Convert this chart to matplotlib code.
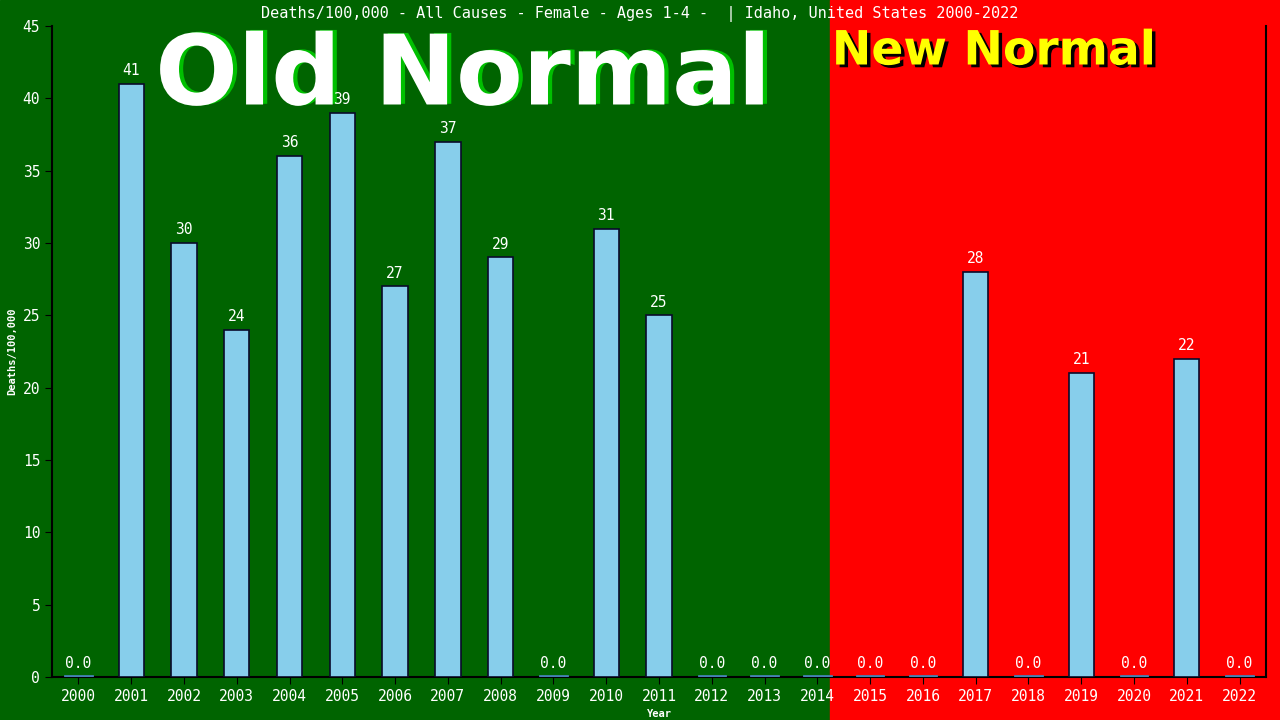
import matplotlib
matplotlib.use('Agg')
import matplotlib.pyplot as plt
import matplotlib.patheffects as pe
from matplotlib.patches import Rectangle

years = [str(y) for y in range(2000, 2023)]
deaths = [0, 41, 30, 24, 36, 39, 27, 37, 29, 0, 31, 25, 0, 0, 0, 0, 0, 28, 0, 21, 0, 22, 0]

mono = 'DejaVu Sans Mono'

fig = plt.figure(figsize=(12.8, 7.2), dpi=100)
# background split: old normal (green) / new normal (red)
split = 830 / 1280
fig.patches.append(Rectangle((0, 0), split, 1, transform=fig.transFigure, color='#006400', zorder=-10))
fig.patches.append(Rectangle((split, 0), 1 - split, 1, transform=fig.transFigure, color='#FF0000', zorder=-10))

# big labels first so the bars sit on top
fig.text(463/1280, 1 - 78/720, 'Old Normal', ha='center', va='center', color='white', fontsize=70,
	fontweight='bold', family='DejaVu Sans', zorder=0,
	path_effects=[pe.withSimplePatchShadow(offset=(3, 0.5), shadow_rgbFace='#00C000', alpha=1)])
fig.text(994/1280, 1 - 52/720, 'New Normal', ha='center', va='center', color='#FFFF00', fontsize=34,
	fontweight='bold', family='DejaVu Sans', zorder=0,
	path_effects=[pe.withSimplePatchShadow(offset=(2.5, -2), shadow_rgbFace='black', alpha=1)])

ax = fig.add_axes([52/1280, 43/720, 1214/1280, 651/720], zorder=1)
ax.patch.set_alpha(0)

x = list(range(len(years)))
for i, v in enumerate(deaths):
	if v > 0:
		ax.bar(i, v, width=0.48, color='#87CEEB', edgecolor='#0a0a2a', linewidth=1.2, zorder=3)
		lab = str(v)
	else:
		ax.plot([i-0.25, i+0.25], [0.05, 0.05], color='#4682B4', lw=2, zorder=3)
		lab = '0.0'
	ax.text(i, v + 0.4, lab, ha='center', va='bottom', color='white', fontsize=10.5, family=mono, zorder=4)

ax.set_xlim(-0.5, len(years) - 0.5)
ax.set_ylim(0, 45)
ax.set_yticks(range(0, 46, 5))
ax.set_xticks(x)
ax.set_xticklabels(years)
ax.tick_params(colors='black', labelcolor='white', labelsize=10.5, length=5)
for lbl in ax.get_xticklabels() + ax.get_yticklabels():
	lbl.set_family(mono)
for s in ax.spines.values():
	s.set_color('black')
	s.set_linewidth(1.5)
ax.spines['top'].set_visible(False)

ax.set_xlabel('Year', color='white', fontsize=7.5, family=mono, fontweight='bold', labelpad=4)
ax.set_ylabel('Deaths/100,000', color='white', fontsize=7.5, family=mono, fontweight='bold', labelpad=4)

fig.text(0.5, 1 - 14/720, 'Deaths/100,000 - All Causes - Female - Ages 1-4 -  | Idaho, United States 2000-2022',
	ha='center', va='center', color='white', fontsize=11, family=mono)

fig.savefig('out.png', dpi=100)
